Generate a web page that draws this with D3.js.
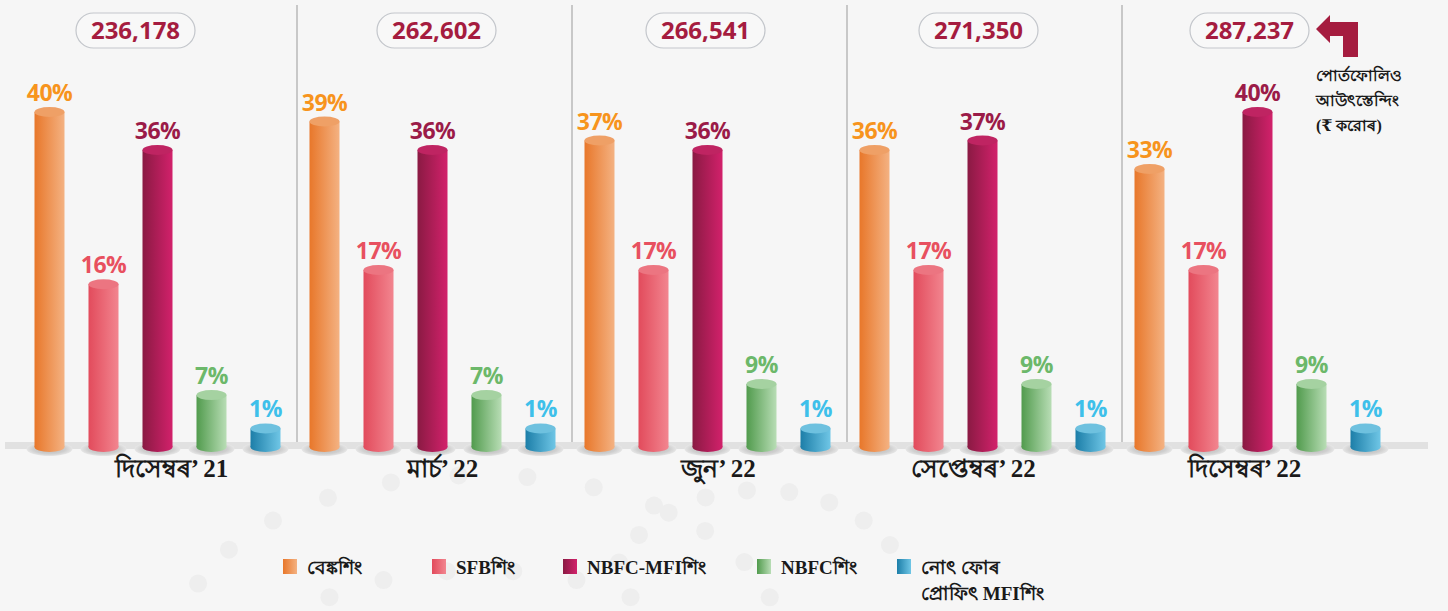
<!DOCTYPE html>
<html>
<head>
<meta charset="utf-8">
<script src="https://cdn.jsdelivr.net/npm/d3@7"></script>
<style>
  body { margin: 0; background: #f6f6f6; }
  svg { display: block; }
</style>
</head>
<body>
<script>
// chart data
var months = ['দিসেম্বৰ’ 21', 'মাৰ্চ’ 22', 'জুন’ 22', 'সেপ্তেম্বৰ’ 22', 'দিসেম্বৰ’ 22'];
var totals = ['236,178', '262,602', '266,541', '271,350', '287,237'];
var categories = ['বেঙ্কশিং', 'SFBশিং', 'NBFC-MFIশিং', 'NBFCশিং', 'নোৎ ফোৰ প্ৰোফিৎ MFIশিং'];
var banking = [40, 39, 37, 36, 33];
var sfb = [16, 17, 17, 17, 17];
var nbfcMfi = [36, 36, 36, 37, 40];
var nbfc = [7, 7, 9, 9, 9];
var notForProfit = [1, 1, 1, 1, 1];
var series = [banking, sfb, nbfcMfi, nbfc, notForProfit];

// colours per category: dark side, light side, top, label
var colors = [
  { a: '#e8772a', b: '#f4b282', top: '#efa066', label: '#f7941d' },
  { a: '#e24b5c', b: '#f2858f', top: '#ec7581', label: '#e8505f' },
  { a: '#8a1a43', b: '#d2216b', top: '#bf2462', label: '#9b1b48' },
  { a: '#519b4d', b: '#b8ddb5', top: '#a5d2a1', label: '#6cb86a' },
  { a: '#1c7ea8', b: '#6fc6e6', top: '#6ec1df', label: '#3ec0ea' }
];

// layout nudges (the original artwork is not evenly placed)
var pillShift = [-22, 4, -2, -4, -8];
var labelShift = [14, 10, 11, -9, -13];

var width = 1448, height = 611;
var baseY = 447;

var svg = d3.select('body').append('svg')
  .attr('width', width)
  .attr('height', height);

var defs = svg.append('defs');
colors.forEach(function(c, i) {
  var g = defs.append('linearGradient').attr('id', 'bar' + i)
    .attr('x1', 0).attr('x2', 1).attr('y1', 0).attr('y2', 0);
  g.append('stop').attr('offset', '0%').attr('stop-color', c.a);
  g.append('stop').attr('offset', '100%').attr('stop-color', c.b);
});
var sh = defs.append('radialGradient').attr('id', 'shadow');
sh.append('stop').attr('offset', '0%').attr('stop-color', '#b5b5b5');
sh.append('stop').attr('offset', '70%').attr('stop-color', '#cfcfcf');
sh.append('stop').attr('offset', '100%').attr('stop-color', '#e6e6e6');

// decorative dots in the background
var deco = svg.append('g').attr('fill', '#eeeeee');
[[480, 640, 300, 165, 200, 345, 11], [480, 665, 215, 95, 190, 350, 9], [760, 600, 150, 110, 200, 330, 8]].forEach(function(arc) {
  for (var k = 0; k <= arc[6]; k++) {
    var t = (arc[4] + (arc[5] - arc[4]) * k / arc[6]) * Math.PI / 180;
    deco.append('circle')
      .attr('cx', arc[0] + arc[2] * Math.cos(t))
      .attr('cy', arc[1] + arc[3] * Math.sin(t))
      .attr('r', 9);
  }
});

// scales
var x0 = d3.scaleBand().domain(months).range([20, 1395]);
var x1 = d3.scalePoint().domain(d3.range(5)).range([-108, 108]);
var y = d3.scaleLinear()
  .domain([0, 9, 17, 36, 40])
  .range([baseY - 18, baseY - 68, baseY - 182, baseY - 302, baseY - 340]);
var barW = 30, ry = 5;

function gx(m) { return x0(m) + x0.bandwidth() / 2; }

// axis band
svg.append('rect')
  .attr('x', 5).attr('y', baseY - 5)
  .attr('width', 1423).attr('height', 7)
  .attr('fill', '#e1e1e1');

// dividers between periods
svg.append('g').selectAll('line')
  .data(months.slice(1))
  .join('line')
  .attr('x1', function(d, i) { return (gx(months[i]) + gx(d)) / 2 + 2; })
  .attr('x2', function(d, i) { return (gx(months[i]) + gx(d)) / 2 + 2; })
  .attr('y1', 5).attr('y2', baseY - 5)
  .attr('stroke', '#9a9a9a').attr('stroke-width', 1);

var groups = svg.append('g').selectAll('g')
  .data(months)
  .join('g')
  .attr('transform', function(d) { return 'translate(' + gx(d) + ',0)'; });

// shadows under bars
groups.selectAll('ellipse.sh')
  .data(d3.range(5))
  .join('ellipse')
  .attr('class', 'sh')
  .attr('cx', function(d) { return x1(d); })
  .attr('cy', baseY + 2)
  .attr('rx', 23).attr('ry', 7)
  .attr('fill', 'url(#shadow)');

// cylinders
groups.each(function(m, gi) {
  var g = d3.select(this);
  var data = series.map(function(s, ci) { return { ci: ci, v: s[gi] }; });
  var bar = g.selectAll('g.bar').data(data).join('g').attr('class', 'bar');
  bar.append('rect')
    .attr('x', function(d) { return x1(d.ci) - barW / 2; })
    .attr('y', function(d) { return y(d.v) + ry; })
    .attr('width', barW)
    .attr('height', function(d) { return baseY - y(d.v) - ry; })
    .attr('fill', function(d) { return 'url(#bar' + d.ci + ')'; });
  bar.append('ellipse')
    .attr('cx', function(d) { return x1(d.ci); })
    .attr('cy', baseY)
    .attr('rx', barW / 2).attr('ry', ry)
    .attr('fill', function(d) { return 'url(#bar' + d.ci + ')'; });
  bar.append('ellipse')
    .attr('cx', function(d) { return x1(d.ci); })
    .attr('cy', function(d) { return y(d.v) + ry; })
    .attr('rx', barW / 2).attr('ry', ry)
    .attr('fill', function(d) { return colors[d.ci].top; });
  bar.append('text')
    .attr('x', function(d) { return x1(d.ci); })
    .attr('y', function(d) { return y(d.v) - 6; })
    .attr('text-anchor', 'middle')
    .attr('font-family', 'Open Sans, Noto Sans, sans-serif')
    .attr('font-weight', 700)
    .attr('font-size', 23)
    .attr('letter-spacing', -0.5)
    .attr('fill', function(d) { return colors[d.ci].label; })
    .text(function(d) { return d.v + '%'; });
});

// totals in pills
var pill = groups.append('g')
  .attr('transform', function(d, i) { return 'translate(' + pillShift[i] + ',0)'; });
pill.append('rect')
  .attr('x', -59.5).attr('y', 13)
  .attr('width', 119).attr('height', 35)
  .attr('rx', 17.5)
  .attr('fill', '#f8f8f8')
  .attr('stroke', '#c3c6cb').attr('stroke-width', 1.2);
pill.append('text')
  .attr('x', 0).attr('y', 39)
  .attr('text-anchor', 'middle')
  .attr('font-family', 'Open Sans, Noto Sans, sans-serif')
  .attr('font-weight', 700)
  .attr('font-size', 24)
  .attr('fill', '#a51c3f')
  .text(function(d, i) { return totals[i]; });

// period labels
groups.append('text')
  .attr('x', function(d, i) { return labelShift[i]; })
  .attr('y', 477)
  .attr('text-anchor', 'middle')
  .attr('font-family', 'Liberation Serif, DejaVu Serif, serif')
  .attr('font-weight', 700)
  .attr('font-size', 25)
  .attr('fill', '#1a1a1a')
  .text(function(d) { return d; });

// arrow annotation
svg.append('path')
  .attr('d', 'M1316,29 L1330,15 L1330,22 L1358,22 L1358,57 L1343,57 L1343,36 L1330,36 L1330,43 Z')
  .attr('fill', '#a51c3f');
var note = svg.append('text')
  .attr('font-family', 'Liberation Serif, DejaVu Serif, serif')
  .attr('font-weight', 700)
  .attr('font-size', 16)
  .attr('fill', '#1a1a1a');
['পোৰ্তফোলিও', 'আউৎস্তেন্দিং', '(₹ করোৰ)'].forEach(function(t, i) {
  note.append('tspan').attr('x', 1316).attr('y', 81 + i * 25).text(t);
});

// legend
var legendX = [283, 432, 563, 757, 897];
var legend = svg.append('g').selectAll('g')
  .data(categories)
  .join('g')
  .attr('transform', function(d, i) { return 'translate(' + legendX[i] + ',559)'; });
legend.append('rect')
  .attr('width', 14).attr('height', 15)
  .attr('fill', function(d, i) { return 'url(#bar' + i + ')'; });
legend.append('text')
  .attr('font-family', 'Liberation Serif, DejaVu Serif, serif')
  .attr('font-weight', 700)
  .attr('font-size', 19)
  .attr('fill', '#1a1a1a')
  .each(function(d, i) {
    var t = d3.select(this);
    var lines = i === 4 ? ['নোৎ ফোৰ', 'প্ৰোফিৎ MFIশিং'] : [d];
    lines.forEach(function(l, j) {
      t.append('tspan').attr('x', 24).attr('y', 15 + j * 26).text(l);
    });
  });
</script>
</body>
</html>
